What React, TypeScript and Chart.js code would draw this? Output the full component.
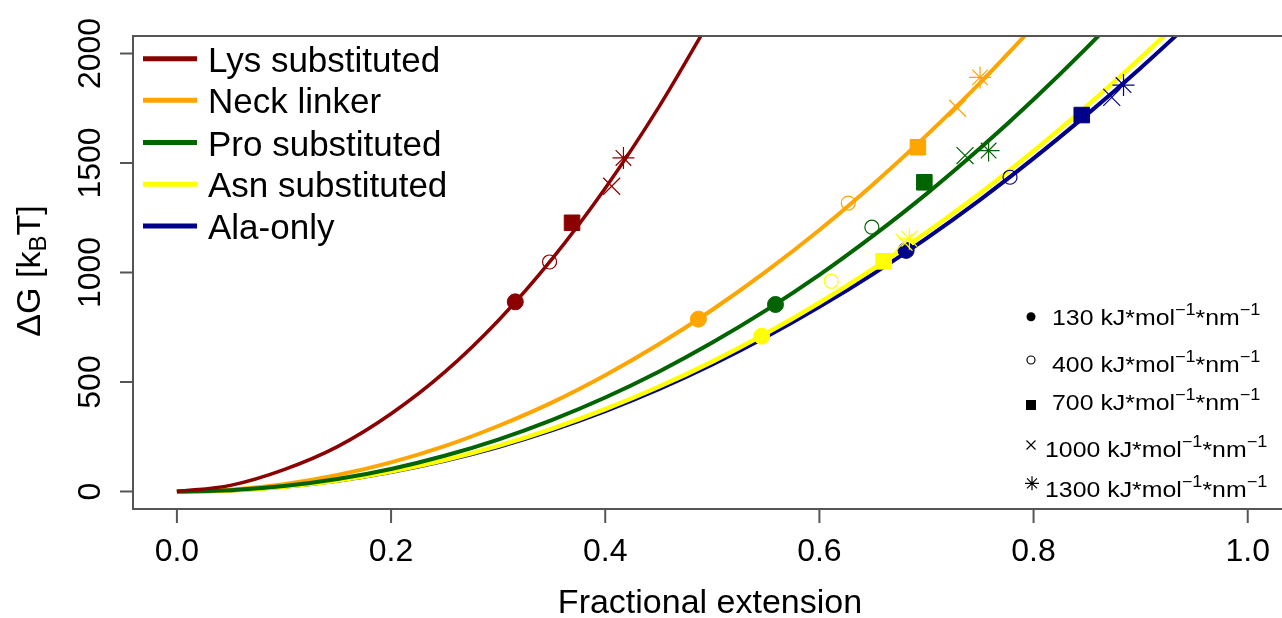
import React, { useEffect, useRef } from 'react';
import { Chart, registerables } from 'chart.js';

Chart.register(...registerables);

// ---------- data ----------
const seriesNames = ['Lys substituted', 'Neck linker', 'Pro substituted', 'Asn substituted', 'Ala-only'];
const seriesColors = ['#8B0000', '#FFA500', '#006400', '#FFFF00', '#00008B'];

// fitted curves
const lysX = [0, 0.05, 0.1, 0.15, 0.2, 0.25, 0.3, 0.35, 0.4, 0.45, 0.5];
const lysY = [0, 28, 100, 205, 355, 545, 780, 1060, 1385, 1755, 2170];
const neckX = [0, 0.05, 0.1, 0.15, 0.2, 0.25, 0.3, 0.35, 0.4, 0.45, 0.5, 0.55, 0.6, 0.65, 0.7, 0.75, 0.8];
const neckY = [0, 8, 33, 75, 133, 207, 299, 406, 531, 672, 830, 1004, 1194, 1402, 1626, 1866, 2124];
const proX = [0, 0.05, 0.1, 0.15, 0.2, 0.25, 0.3, 0.35, 0.4, 0.45, 0.5, 0.55, 0.6, 0.65, 0.7, 0.75, 0.8, 0.85, 0.9];
const proY = [0, 6, 25, 57, 103, 163, 237, 326, 429, 547, 680, 827, 989, 1167, 1359, 1567, 1790, 2028, 2281];
const asnX = [0, 0.05, 0.1, 0.15, 0.2, 0.25, 0.3, 0.35, 0.4, 0.45, 0.5, 0.55, 0.6, 0.65, 0.7, 0.75, 0.8, 0.85, 0.9, 0.95];
const asnY = [0, 5, 22, 50, 91, 143, 208, 286, 376, 478, 593, 721, 862, 1016, 1183, 1362, 1555, 1761, 1980, 2212];
const alaX = [0, 0.05, 0.1, 0.15, 0.2, 0.25, 0.3, 0.35, 0.4, 0.45, 0.5, 0.55, 0.6, 0.65, 0.7, 0.75, 0.8, 0.85, 0.9, 0.95];
const alaY = [0, 5, 21, 49, 89, 140, 203, 279, 367, 467, 580, 705, 843, 993, 1156, 1332, 1521, 1722, 1934, 2158];

// simulation points: 130, 400, 700, 1000, 1300 kJ/mol/nm
const lysPtX = [0.316, 0.348, 0.369, 0.406, 0.417];
const lysPtY = [866, 1048, 1227, 1394, 1523];
const neckPtX = [0.487, 0.627, 0.692, 0.729, 0.750];
const neckPtY = [787, 1317, 1572, 1750, 1891];
const proPtX = [0.559, 0.649, 0.698, 0.736, 0.758];
const proPtY = [854, 1207, 1412, 1534, 1557];
const asnPtX = [0.546, 0.611, 0.660, 0.679, 0.684];
const asnPtY = [709, 960, 1051, 1138, 1154];
const alaPtX = [0.681, 0.778, 0.845, 0.873, 0.884];
const alaPtY = [1101, 1435, 1719, 1800, 1856];

const forceLabels = ['130', '400', '700', '1000', '1300'];
const xTicks = [0, 0.2, 0.4, 0.6, 0.8, 1.0];
const yTicks = [0, 500, 1000, 1500, 2000];

const FONT = '"Liberation Sans", Arial, sans-serif';

function zip(xs: number[], ys: number[]) {
  return xs.map((x, i) => ({ x, y: ys[i] }));
}

const curves = [
  [lysX, lysY],
  [neckX, neckY],
  [proX, proY],
  [asnX, asnY],
  [alaX, alaY],
];
const points = [
  [lysPtX, lysPtY],
  [neckPtX, neckPtY],
  [proPtX, proPtY],
  [asnPtX, asnPtY],
  [alaPtX, alaPtY],
];
const curveOrder = [10, 12, 11, 13, 14];
const curveWidth = [3.5, 4, 4, 4.5, 4];

const overlay = {
  id: 'overlay',
  afterDraw(chart: any) {
    const ctx: CanvasRenderingContext2D = chart.ctx;
    const xs = chart.scales.x;
    const ys = chart.scales.y;
    const a = chart.chartArea;
    ctx.save();
    // frame (left, top, bottom)
    ctx.strokeStyle = '#555555';
    ctx.lineWidth = 2;
    ctx.beginPath();
    ctx.moveTo(a.right + 5, a.top);
    ctx.lineTo(a.left, a.top);
    ctx.lineTo(a.left, a.bottom);
    ctx.lineTo(a.right + 5, a.bottom);
    ctx.stroke();

    // x ticks
    ctx.fillStyle = '#000';
    ctx.font = `32px ${FONT}`;
    ctx.textAlign = 'center';
    ctx.textBaseline = 'alphabetic';
    xTicks.forEach((v) => {
      const px = xs.getPixelForValue(v);
      ctx.beginPath();
      ctx.moveTo(px, a.bottom);
      ctx.lineTo(px, a.bottom + 14);
      ctx.stroke();
      ctx.fillText(v.toFixed(1), px, 561);
    });
    // y ticks
    yTicks.forEach((v) => {
      const py = ys.getPixelForValue(v);
      ctx.beginPath();
      ctx.moveTo(a.left - 13, py);
      ctx.lineTo(a.left, py);
      ctx.stroke();
      ctx.save();
      ctx.translate(100, py);
      ctx.rotate(-Math.PI / 2);
      ctx.fillText(String(v), 0, 0);
      ctx.restore();
    });

    // x title
    ctx.font = `34px ${FONT}`;
    ctx.fillText('Fractional extension', 710, 613);

    // y title with subscript
    ctx.save();
    ctx.translate(40, 271);
    ctx.rotate(-Math.PI / 2);
    ctx.textAlign = 'left';
    const big = `34px ${FONT}`;
    const small = `24px ${FONT}`;
    ctx.font = big;
    const w1 = ctx.measureText('\u0394G [k').width;
    const w3 = ctx.measureText('T]').width;
    ctx.font = small;
    const w2 = ctx.measureText('B').width;
    let cx = -(w1 + w2 + w3) / 2;
    ctx.font = big;
    ctx.fillText('\u0394G [k', cx, 0);
    cx += w1;
    ctx.font = small;
    ctx.fillText('B', cx, 6);
    cx += w2;
    ctx.font = big;
    ctx.fillText('T]', cx, 0);
    ctx.restore();

    // series legend
    const rowsY = [58.7, 100.2, 142.5, 184.3, 226];
    ctx.textAlign = 'left';
    ctx.font = `35px ${FONT}`;
    seriesNames.forEach((name, i) => {
      ctx.strokeStyle = seriesColors[i];
      ctx.lineWidth = 5;
      ctx.beginPath();
      ctx.moveTo(143, rowsY[i]);
      ctx.lineTo(197, rowsY[i]);
      ctx.stroke();
      ctx.fillStyle = '#000';
      ctx.fillText(name, 208, rowsY[i] + 13);
    });

    // force legend
    const mY = [316.7, 360, 405, 445, 483.3];
    const tX = [1052, 1052, 1052, 1045, 1045];
    const tB = [325, 371.5, 410, 456.5, 496.5];
    ctx.fillStyle = '#000';
    ctx.strokeStyle = '#000';
    ctx.lineWidth = 1.2;
    const mx = 1031;
    // filled circle
    ctx.beginPath();
    ctx.arc(mx, mY[0], 4.5, 0, Math.PI * 2);
    ctx.fill();
    // open circle
    ctx.beginPath();
    ctx.arc(mx, mY[1], 4, 0, Math.PI * 2);
    ctx.stroke();
    // square
    ctx.fillRect(mx - 5, mY[2] - 5, 10, 10);
    // cross
    ctx.beginPath();
    ctx.moveTo(mx - 4.5, mY[3] - 4.5);
    ctx.lineTo(mx + 4.5, mY[3] + 4.5);
    ctx.moveTo(mx + 4.5, mY[3] - 4.5);
    ctx.lineTo(mx - 4.5, mY[3] + 4.5);
    ctx.stroke();
    // asterisk
    const sx = mx + 1;
    ctx.beginPath();
    ctx.moveTo(sx - 5, mY[4] - 5);
    ctx.lineTo(sx + 5, mY[4] + 5);
    ctx.moveTo(sx + 5, mY[4] - 5);
    ctx.lineTo(sx - 5, mY[4] + 5);
    ctx.moveTo(sx - 7, mY[4]);
    ctx.lineTo(sx + 7, mY[4]);
    ctx.moveTo(sx, mY[4] - 7);
    ctx.lineTo(sx, mY[4] + 7);
    ctx.stroke();

    const main = `22px ${FONT}`;
    const sup = `16px ${FONT}`;
    forceLabels.forEach((lab, i) => {
      ctx.save();
      ctx.translate(tX[i], tB[i]);
      ctx.scale(1.13, 1);
      const parts: [string, boolean][] = [
        [`${lab} kJ*mol`, false],
        ['\u22121', true],
        ['*nm', false],
        ['\u22121', true],
      ];
      let px = 0;
      parts.forEach(([t, s]) => {
        ctx.font = s ? sup : main;
        ctx.fillText(t, px, s ? -10 : 0);
        px += ctx.measureText(t).width;
      });
      ctx.restore();
    });
    ctx.restore();
  },
};

export default function App() {
  const ref = useRef<HTMLCanvasElement>(null);
  useEffect(() => {
    document.body.style.margin = '0';
    const datasets: any[] = [];
    curves.forEach(([xs, ysv], i) => {
      datasets.push({
        label: seriesNames[i],
        data: zip(xs, ysv),
        showLine: true,
        borderColor: seriesColors[i],
        backgroundColor: seriesColors[i],
        borderWidth: curveWidth[i],
        pointRadius: 0,
        cubicInterpolationMode: 'monotone',
        fill: false,
        order: curveOrder[i],
      });
    });
    points.forEach(([xs, ysv], i) => {
      const c = seriesColors[i];
      datasets.push({
        label: seriesNames[i] + ' points',
        data: zip(xs, ysv),
        showLine: false,
        pointStyle: ['circle', 'circle', 'rect', 'crossRot', 'star'],
        pointRadius: [8, 7, 11, 12, 11],
        pointBackgroundColor: [c, 'rgba(0,0,0,0)', c, c, c],
        pointBorderColor: c,
        pointBorderWidth: [1, 1.2, 1, 1.2, 1.2],
        order: i,
      });
    });
    const chart = new Chart(ref.current!, {
      type: 'scatter',
      data: { datasets },
      options: {
        animation: false,
        responsive: false,
        devicePixelRatio: 1,
        layout: { autoPadding: false, padding: { left: 133, top: 36, right: 0, bottom: 109 } },
        scales: {
          x: { type: 'linear', min: -0.041, max: 1.032, display: false },
          y: { type: 'linear', min: -80, max: 2080, display: false },
        },
        plugins: {
          legend: { display: false },
          tooltip: { enabled: false },
        },
        events: [],
      },
      plugins: [overlay],
    } as any);
    return () => chart.destroy();
  }, []);
  return (
    <canvas
      ref={ref}
      width={1282}
      height={618}
      style={{ display: 'block', width: '1282px', height: '618px' }}
    />
  );
}
